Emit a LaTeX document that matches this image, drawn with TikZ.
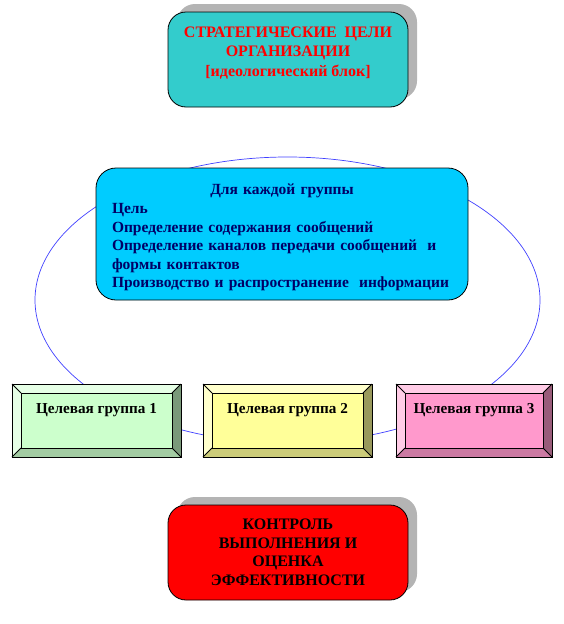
\documentclass[tikz,border=0pt]{standalone}
\usepackage{fontspec}
\setmainfont{Liberation Serif}
\usetikzlibrary{shadows}

\definecolor{goalcyan}{HTML}{33CCCC}
\definecolor{infocyan}{HTML}{00CCFF}
\definecolor{infonavy}{HTML}{000066}
\definecolor{ringblue}{HTML}{4040FF}
\definecolor{shadowgray}{HTML}{B4B4B4}
\definecolor{g1face}{HTML}{CCFFCC}
\definecolor{g1light}{HTML}{E6FFE6}
\definecolor{g1dark}{HTML}{7A997A}
\definecolor{g1low}{HTML}{A3CCA3}
\definecolor{g2face}{HTML}{FFFF99}
\definecolor{g2light}{HTML}{FFFFCC}
\definecolor{g2dark}{HTML}{99995C}
\definecolor{g2low}{HTML}{CCCC7A}
\definecolor{g3face}{HTML}{FF99CC}
\definecolor{g3light}{HTML}{FFCCE6}
\definecolor{g3dark}{HTML}{995C7A}
\definecolor{g3low}{HTML}{CC7AA3}

\begin{document}
\begin{tikzpicture}[x=1pt,y=-1pt,
  plate/.style={draw=black, line width=0.8pt, rounded corners=18pt,
    minimum width=240pt, minimum height=95pt, inner sep=0pt, align=center,
    drop shadow={shadow xshift=9pt, shadow yshift=8pt, fill=shadowgray, opacity=1}},
  infobox/.style={draw=black, line width=0.8pt, rounded corners=20pt, fill=infocyan,
    text width=340pt, inner xsep=16pt, inner ysep=8pt, minimum height=132pt, align=left,
    text=infonavy, font=\fontsize{15.5}{18.6}\selectfont\bfseries},
  bevelline/.style={draw=black, line width=0.8pt},
  groupface/.style={draw=black, line width=0.8pt, inner sep=0pt},
  grouplabel/.style={inner sep=0pt, font=\fontsize{15.2}{19}\selectfont\bfseries}]
\useasboundingbox (0,0) rectangle (564,624);

% ring round the groups
\draw[ringblue, line width=0.7pt] (287.5,300) ellipse [x radius=252.5, y radius=143];

% top and bottom plates
\node[plate, fill=goalcyan, text=red, text depth=16pt,
  font=\fontsize{16}{19.4}\selectfont\bfseries] (goals) at (288,59.5)
  {СТРАТЕГИЧЕСКИЕ\ \ ЦЕЛИ\\ОРГАНИЗАЦИИ\\{}[идеологический блок]};
\node[plate, fill=red, font=\fontsize{16}{18.5}\selectfont\bfseries] (control) at (288,552.5)
  {КОНТРОЛЬ\\ВЫПОЛНЕНИЯ И\\ОЦЕНКА\\ЭФФЕКТИВНОСТИ};

% block for every group
\node[infobox] (info) at (282,234)
  {\makebox[\hsize]{\rule{0pt}{18pt}Для каждой группы}\\
   Цель\\
   Определение содержания сообщений\\
   \mbox{Определение каналов передачи сообщений\ \ и}\\
   формы контактов\\
   \mbox{Производство и распространение\ \ информации}};

% group 1
\fill[g1light] (12,384) -- (181,384) -- (172,393) -- (21,393) -- (21,448) -- (12,457) -- cycle;
\fill[g1dark] (181,384) -- (181,457) -- (172,448) -- (172,393) -- cycle;
\fill[g1low] (12,457) -- (181,457) -- (172,448) -- (21,448) -- cycle;
\draw[bevelline] (12,384) rectangle (181,457);
\draw[bevelline] (12,384) -- (21,393) (181,384) -- (172,393) (181,457) -- (172,448) (12,457) -- (21,448);
\node[groupface, fill=g1face, minimum width=151pt, minimum height=55pt] (group1) at (96.5,420.5) {};
\node[grouplabel] (group1text) at ([yshift=-18pt]group1.north) {Целевая группа 1};

% group 2
\fill[g2light] (203,384) -- (372,384) -- (363,393) -- (212,393) -- (212,448) -- (203,457) -- cycle;
\fill[g2dark] (372,384) -- (372,457) -- (363,448) -- (363,393) -- cycle;
\fill[g2low] (203,457) -- (372,457) -- (363,448) -- (212,448) -- cycle;
\draw[bevelline] (203,384) rectangle (372,457);
\draw[bevelline] (203,384) -- (212,393) (372,384) -- (363,393) (372,457) -- (363,448) (203,457) -- (212,448);
\node[groupface, fill=g2face, minimum width=151pt, minimum height=55pt] (group2) at (287.5,420.5) {};
\node[grouplabel] (group2text) at ([yshift=-18pt]group2.north) {Целевая группа 2};

% group 3
\fill[g3light] (396,384) -- (552,384) -- (543,393) -- (405,393) -- (405,448) -- (396,457) -- cycle;
\fill[g3dark] (552,384) -- (552,457) -- (543,448) -- (543,393) -- cycle;
\fill[g3low] (396,457) -- (552,457) -- (543,448) -- (405,448) -- cycle;
\draw[bevelline] (396,384) rectangle (552,457);
\draw[bevelline] (396,384) -- (405,393) (552,384) -- (543,393) (552,457) -- (543,448) (396,457) -- (405,448);
\node[groupface, fill=g3face, minimum width=138pt, minimum height=55pt] (group3) at (474,420.5) {};
\node[grouplabel] (group3text) at ([yshift=-18pt]group3.north) {Целевая группа 3};
\end{tikzpicture}
\end{document}
